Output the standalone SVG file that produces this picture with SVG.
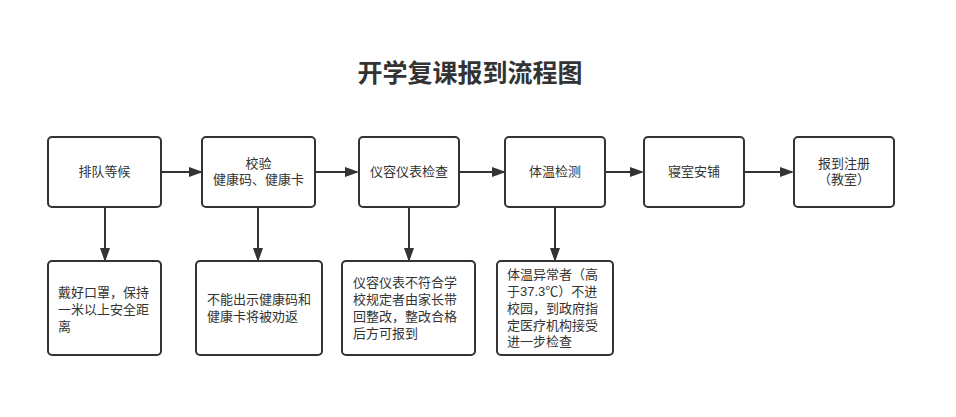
<svg xmlns="http://www.w3.org/2000/svg" width="956" height="417" viewBox="0 0 956 417">
<defs>
<style>
.box{fill:#fff;stroke:#333;stroke-width:2}
.t{font-family:"Liberation Sans","Noto Sans CJK SC",sans-serif;font-size:13px;fill:#333}
.c{text-anchor:middle}
.ln{stroke:#333;stroke-width:2;fill:none}
.title{font-family:"Liberation Sans","Noto Sans CJK SC",sans-serif;font-size:25px;font-weight:bold;fill:#333;text-anchor:middle}
</style>
<marker id="av" markerWidth="14" markerHeight="14" refX="12" refY="7" orient="auto" markerUnits="userSpaceOnUse" viewBox="0 0 14 14">
<path d="M0,2 L14,7 L0,12 Z" fill="#333"/>
</marker>
</defs>
<rect width="956" height="417" fill="#fff"/>
<text class="title" x="470" y="82">开学复课报到流程图</text>
<g id="connectors">
<line class="ln" x1="161" y1="172" x2="201" y2="172" marker-end="url(#av)"/>
<line class="ln" x1="315" y1="172" x2="357" y2="172" marker-end="url(#av)"/>
<line class="ln" x1="459" y1="172" x2="504" y2="172" marker-end="url(#av)"/>
<line class="ln" x1="605" y1="172" x2="642" y2="172" marker-end="url(#av)"/>
<line class="ln" x1="744" y1="172" x2="792" y2="172" marker-end="url(#av)"/>
<line class="ln" x1="105" y1="207" x2="105" y2="260" marker-end="url(#av)"/>
<line class="ln" x1="258" y1="207" x2="258" y2="260" marker-end="url(#av)"/>
<line class="ln" x1="409" y1="207" x2="409" y2="260" marker-end="url(#av)"/>
<line class="ln" x1="555" y1="207" x2="555" y2="260" marker-end="url(#av)"/>
</g>
<g id="n1"><rect class="box" x="48" y="137" width="113" height="70" rx="4"/><text class="t c" x="104.5" y="176">排队等候</text></g>
<g id="n2"><rect class="box" x="202" y="137" width="113" height="70" rx="4"/><text class="t c" x="258.5" y="168">校验</text><text class="t c" x="258.5" y="184">健康码、健康卡</text></g>
<g id="n3"><rect class="box" x="359" y="137" width="100" height="70" rx="4"/><text class="t c" x="409" y="176">仪容仪表检查</text></g>
<g id="n4"><rect class="box" x="505" y="137" width="100" height="70" rx="4"/><text class="t c" x="555" y="176">体温检测</text></g>
<g id="n5"><rect class="box" x="644" y="137" width="100" height="70" rx="4"/><text class="t c" x="694" y="176">寝室安铺</text></g>
<g id="n6"><rect class="box" x="794" y="137" width="100" height="70" rx="4"/><text class="t c" x="844" y="168">报到注册</text><text class="t c" x="844" y="184">（教室）</text></g>
<g id="n7"><rect class="box" x="48" y="261" width="113" height="94" rx="4"/><text class="t" x="58" y="297">戴好口罩，保持</text><text class="t" x="58" y="314">一米以上安全距</text><text class="t" x="58" y="331">离</text></g>
<g id="n8"><rect class="box" x="196" y="261" width="126" height="94" rx="4"/><text class="t" x="207" y="304">不能出示健康码和</text><text class="t" x="207" y="321">健康卡将被劝返</text></g>
<g id="n9"><rect class="box" x="342" y="261" width="133" height="94" rx="4"/><text class="t" x="353" y="287">仪容仪表不符合学</text><text class="t" x="353" y="304">校规定者由家长带</text><text class="t" x="353" y="321">回整改，整改合格</text><text class="t" x="353" y="338">后方可报到</text></g>
<g id="n10"><rect class="box" x="497" y="261" width="116" height="94" rx="4"/><text class="t" x="507" y="279">体温异常者（高</text><text class="t" x="507" y="296">于37.3℃）不进</text><text class="t" x="507" y="313">校园，到政府指</text><text class="t" x="507" y="330">定医疗机构接受</text><text class="t" x="507" y="346">进一步检查</text></g>
</svg>
